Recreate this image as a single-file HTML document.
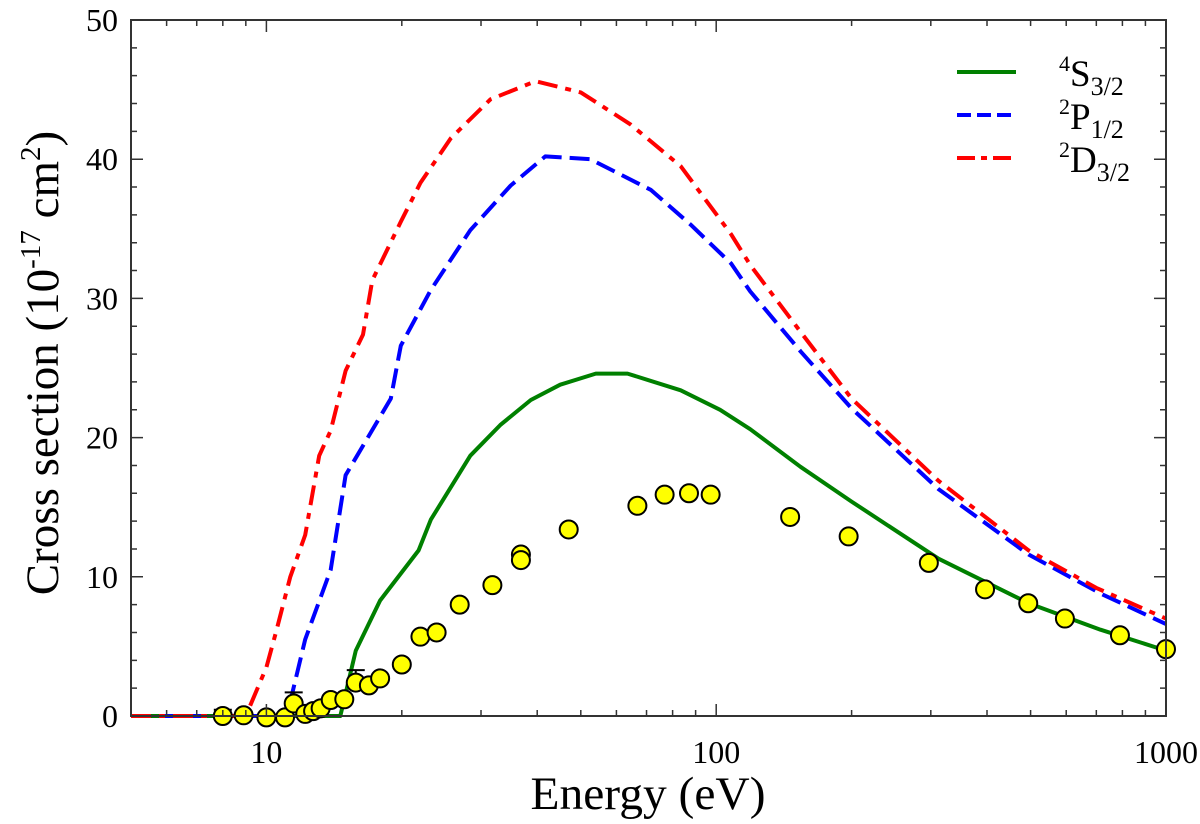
<!DOCTYPE html>
<html><head><meta charset="utf-8"><style>
html,body{margin:0;padding:0;background:#fff;}
svg{display:block;font-family:"Liberation Serif","DejaVu Serif",serif;}
</style></head><body>
<svg id="chart" width="1200" height="824" viewBox="0 0 1200 824">
<g id="series"></g>
<g id="pts"></g>
<g id="axes"></g>
<text x="648" y="809" font-size="47" text-anchor="middle" textLength="235" lengthAdjust="spacingAndGlyphs">Energy (eV)</text>
<text transform="translate(58,363) rotate(-90)" font-size="47" text-anchor="middle">Cross section (10<tspan font-size="29" dy="-18">-17</tspan><tspan dy="18"> cm</tspan><tspan font-size="29" dy="-18">2</tspan><tspan dy="18">)</tspan></text>
<g>
<line x1="957" y1="72" x2="1016" y2="72" stroke="#008000" stroke-width="4"/>
<line x1="957" y1="115" x2="1016" y2="115" stroke="#0000ff" stroke-width="4" stroke-dasharray="14 6"/>
<line x1="957" y1="158" x2="1014" y2="158" stroke="#ff0000" stroke-width="4" stroke-dasharray="18 6 6 6"/>
<text x="1059" y="86" font-size="37"><tspan font-size="22" dy="-15">4</tspan><tspan dy="15">S</tspan><tspan font-size="26" dy="9">3/2</tspan></text>
<text x="1059" y="129" font-size="37"><tspan font-size="22" dy="-15">2</tspan><tspan dy="15">P</tspan><tspan font-size="26" dy="9">1/2</tspan></text>
<text x="1059" y="172" font-size="37"><tspan font-size="22" dy="-15">2</tspan><tspan dy="15">D</tspan><tspan font-size="26" dy="9">3/2</tspan></text>
</g>
</svg>
<script>
// ---- data ----
const sE = [5, 14.6, 15.8, 17.9, 21.8, 23.2, 28.4, 33.1, 38.7, 45, 54, 63.5, 83.4, 102, 119, 154, 200, 312, 495, 715, 1000];
const sV = [0, 0, 4.7, 8.3, 11.9, 14.1, 18.7, 20.9, 22.7, 23.8, 24.6, 24.6, 23.4, 22.0, 20.6, 17.9, 15.4, 11.3, 8.1, 6.2, 4.7];
const pE = [5, 11.1, 12.2, 13.9, 15.0, 18.9, 19.9, 23.2, 28.4, 34.9, 41.7, 52.5, 71.5, 87.7, 108, 119, 154, 200, 312, 495, 715, 1000];
const pV = [0, 0, 5.5, 10.5, 17.3, 22.8, 26.6, 30.6, 34.9, 38.1, 40.2, 40.0, 37.8, 35.3, 32.5, 30.5, 26.2, 22.1, 16.3, 11.6, 8.8, 6.6];
const dE = [5, 9.0, 10, 10.5, 11.3, 12.2, 13.1, 13.9, 15.0, 16.4, 17.2, 19.9, 22.0, 25.7, 31.5, 39.7, 50, 64.5, 83.4, 108, 119, 154, 200, 312, 495, 700, 1000];
const dV = [0, 0, 3.5, 6, 10, 13, 18.7, 20.5, 24.8, 27.4, 31.3, 35.5, 38.3, 41.5, 44.3, 45.6, 44.8, 42.5, 39.5, 34.6, 32.4, 27.6, 22.8, 16.9, 11.9, 9.2, 7.0];
const expE = [8.0, 8.9, 10.0, 11.0, 11.5, 12.2, 12.7, 13.2, 13.9, 14.9, 15.8, 16.9, 17.9, 20.0, 22.0, 23.9, 26.9, 31.8, 36.8, 36.8, 47, 66.8, 76.8, 87, 97.2, 146, 197, 297, 396, 494, 596, 790, 1000];
const expV = [0, 0.05, -0.1, -0.1, 0.9, 0.15, 0.35, 0.55, 1.15, 1.2, 2.4, 2.2, 2.7, 3.7, 5.7, 6.0, 8.0, 9.4, 11.6, 11.2, 13.4, 15.1, 15.9, 16.0, 15.9, 14.3, 12.9, 11.0, 9.1, 8.1, 7.0, 5.8, 4.8];
const expErr = [0.45, 0, 0, 0, 0.8, 0, 0, 0, 0, 0, 0.9, 0, 0, 0, 0, 0, 0, 0, 0, 0, 0, 0, 0, 0, 0, 0, 0, 0, 0, 0, 0, 0, 0];
const xTicks = [10, 100, 1000];
const xTickLabels = ["10", "100", "1000"];
const yTicks = [0, 10, 20, 30, 40, 50];
const yTickLabels = ["0", "10", "20", "30", "40", "50"];

// ---- scales ----
const L=131, R=1166, T=20, B=716;
const xMin=5, xMax=1000, yMin=0, yMax=50;
function X(e){return L+(Math.log10(e)-Math.log10(xMin))/(Math.log10(xMax)-Math.log10(xMin))*(R-L);}
function Y(v){return B-(v-yMin)/(yMax-yMin)*(B-T);}
const NS="http://www.w3.org/2000/svg";
function mk(tag,attrs,parent){const el=document.createElementNS(NS,tag);for(const k in attrs)el.setAttribute(k,attrs[k]);parent.appendChild(el);return el;}

const series=document.getElementById('series');
function line(E,V,color,dash,name){
  const d=E.map((e,i)=>(i?'L':'M')+X(e).toFixed(1)+','+Y(V[i]).toFixed(1)).join(' ');
  const p=mk('path',{d:d,fill:'none',stroke:color,'stroke-width':4,'stroke-dasharray':dash,'stroke-linejoin':'round'},series);
  
  
}
line(sE,sV,'#008000','none','line-4s32');
line(pE,pV,'#0000ff','20 8','line-2p12');
line(dE,dV,'#ff0000','20 8 6 8','line-2d32');

const pts=document.getElementById('pts');
expE.forEach((e,i)=>{
  const cx=X(e), cy=Y(expV[i]);
  if(expErr[i]>0){
    const y1=Y(expV[i]+expErr[i]);
    const eb=mk('path',{d:`M${cx},${cy} L${cx},${y1} M${cx-9},${y1} L${cx+9},${y1}`,stroke:'#000','stroke-width':2,fill:'none'},pts);
    
    
  }
  const c=mk('circle',{cx:cx,cy:cy,r:9,fill:'#ffff00',stroke:'#000','stroke-width':2},pts);
  
  
});

// ---- axes ----
const ax=document.getElementById('axes');
const frame=mk('rect',{x:L,y:T,width:R-L,height:B-T,fill:'none',stroke:'#333','stroke-width':2},ax);


let tk='';
for(let dec=1;dec<=1000;dec*=10){for(let m=1;m<10;m++){const e=dec*m;if(e<xMin||e>xMax)continue;const x=X(e);const len=(m===1)?12:6;tk+=`M${x},${B}L${x},${B-len}M${x},${T}L${x},${T+len}`;}}
for(let v=0;v<=50;v+=2){const y=Y(v);const len=(v%10===0)?12:6;tk+=`M${L},${y}L${L+len},${y}M${R},${y}L${R-len},${y}`;}
const ticks=mk('path',{d:tk,stroke:'#333','stroke-width':1.5,fill:'none'},ax);


xTicks.forEach((e,i)=>{
  const t=mk('text',{x:X(e),y:763,'font-size':32,'text-anchor':'middle',fill:'#000'},ax);
  t.textContent=xTickLabels[i];
  
  
});
yTicks.forEach((v,i)=>{
  const t=mk('text',{x:118,y:Y(v)+11,'font-size':32,'text-anchor':'end',fill:'#000'},ax);
  t.textContent=yTickLabels[i];
  
  
});
</script>
</body></html>
